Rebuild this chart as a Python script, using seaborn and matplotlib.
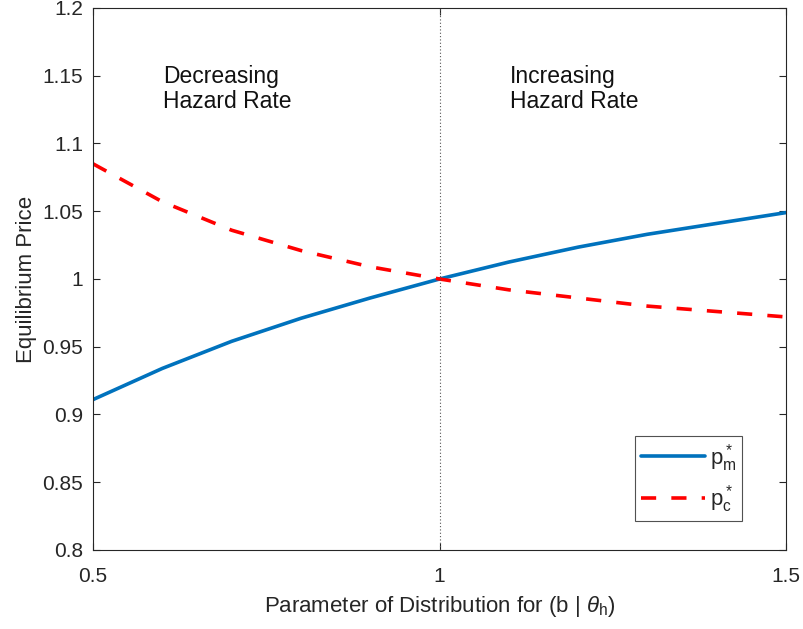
import numpy as np
import pandas as pd
import matplotlib
matplotlib.use("Agg")
import matplotlib.pyplot as plt
import seaborn as sns

# --------------------------
# data
# --------------------------
b_param = [0.5, 0.6, 0.7, 0.8, 0.9, 1.0, 1.1, 1.2, 1.3, 1.4, 1.5]
p_m = [0.911, 0.934, 0.954, 0.971, 0.986, 1.000, 1.0125, 1.0235, 1.033, 1.041, 1.049]
p_c = [1.085, 1.057, 1.036, 1.021, 1.009, 1.000, 0.992, 0.986, 0.980, 0.976, 0.972]

x_ticks = [0.5, 1.0, 1.5]
x_tick_labels = ["0.5", "1", "1.5"]
y_ticks = [0.8, 0.85, 0.9, 0.95, 1.0, 1.05, 1.1, 1.15, 1.2]
y_tick_labels = ["0.8", "0.85", "0.9", "0.95", "1", "1.05", "1.1", "1.15", "1.2"]

df = pd.DataFrame({"b": b_param, "p_m": p_m, "p_c": p_c})

# --------------------------
# style
# --------------------------
sns.set_style("ticks")
plt.rcParams["font.family"] = ["Liberation Sans", "DejaVu Sans"]
plt.rcParams["mathtext.fontset"] = "custom"
plt.rcParams["mathtext.rm"] = "Liberation Sans"
plt.rcParams["mathtext.it"] = "Liberation Sans:italic"
plt.rcParams["xtick.direction"] = "in"
plt.rcParams["ytick.direction"] = "in"

fig = plt.figure(figsize=(8.04, 6.29), dpi=100)
ax = fig.add_axes([0.1157, 0.1256, 0.8619, 0.8617])

sns.lineplot(data=df, x="b", y="p_m", ax=ax, color="#0072BD", linewidth=2.6,
             label=r"$\mathregular{p^*_m}$")
sns.lineplot(data=df, x="b", y="p_c", ax=ax, color="#FF0000", linewidth=2.6,
             linestyle=(0, (4.2, 4.2)), label=r"$\mathregular{p^*_c}$")

ax.axvline(1.0, color="#555555", linestyle=(0, (1, 2)), linewidth=0.8)

ax.text(0.601, 1.158, "Decreasing\nHazard Rate", fontsize=16.5, va="top",
        ha="left", linespacing=1.1, color="#111111")
ax.text(1.102, 1.158, "Increasing\nHazard Rate", fontsize=16.5, va="top",
        ha="left", linespacing=1.1, color="#111111")

ax.set_xlim(0.5, 1.5)
ax.set_ylim(0.8, 1.2)
ax.set_xticks(x_ticks)
ax.set_xticklabels(x_tick_labels)
ax.set_yticks(y_ticks)
ax.set_yticklabels(y_tick_labels)
ax.tick_params(labelsize=15, colors="#262626", top=True, right=True,
               length=5, width=0.8)
ax.tick_params(axis="x", pad=12)
ax.tick_params(axis="y", pad=7)

ax.set_xlabel(r"Parameter of Distribution for (b | $\theta_\mathregular{h}$)",
              fontsize=16, color="#262626", labelpad=6)
ax.set_ylabel("Equilibrium Price", fontsize=16, color="#262626", labelpad=4)

for side in ax.spines.values():
    side.set_visible(True)
    side.set_color("#262626")
    side.set_linewidth(0.8)

leg = ax.legend(loc="lower right", bbox_to_anchor=(0.9365, 0.0535), fontsize=16,
                frameon=True, fancybox=False, handlelength=2.9,
                handletextpad=0.2, borderpad=0.25, labelspacing=0.45,
                borderaxespad=0)
leg.get_frame().set_edgecolor("#262626")
leg.get_frame().set_linewidth(0.8)

plt.savefig("out.png", dpi=100)
